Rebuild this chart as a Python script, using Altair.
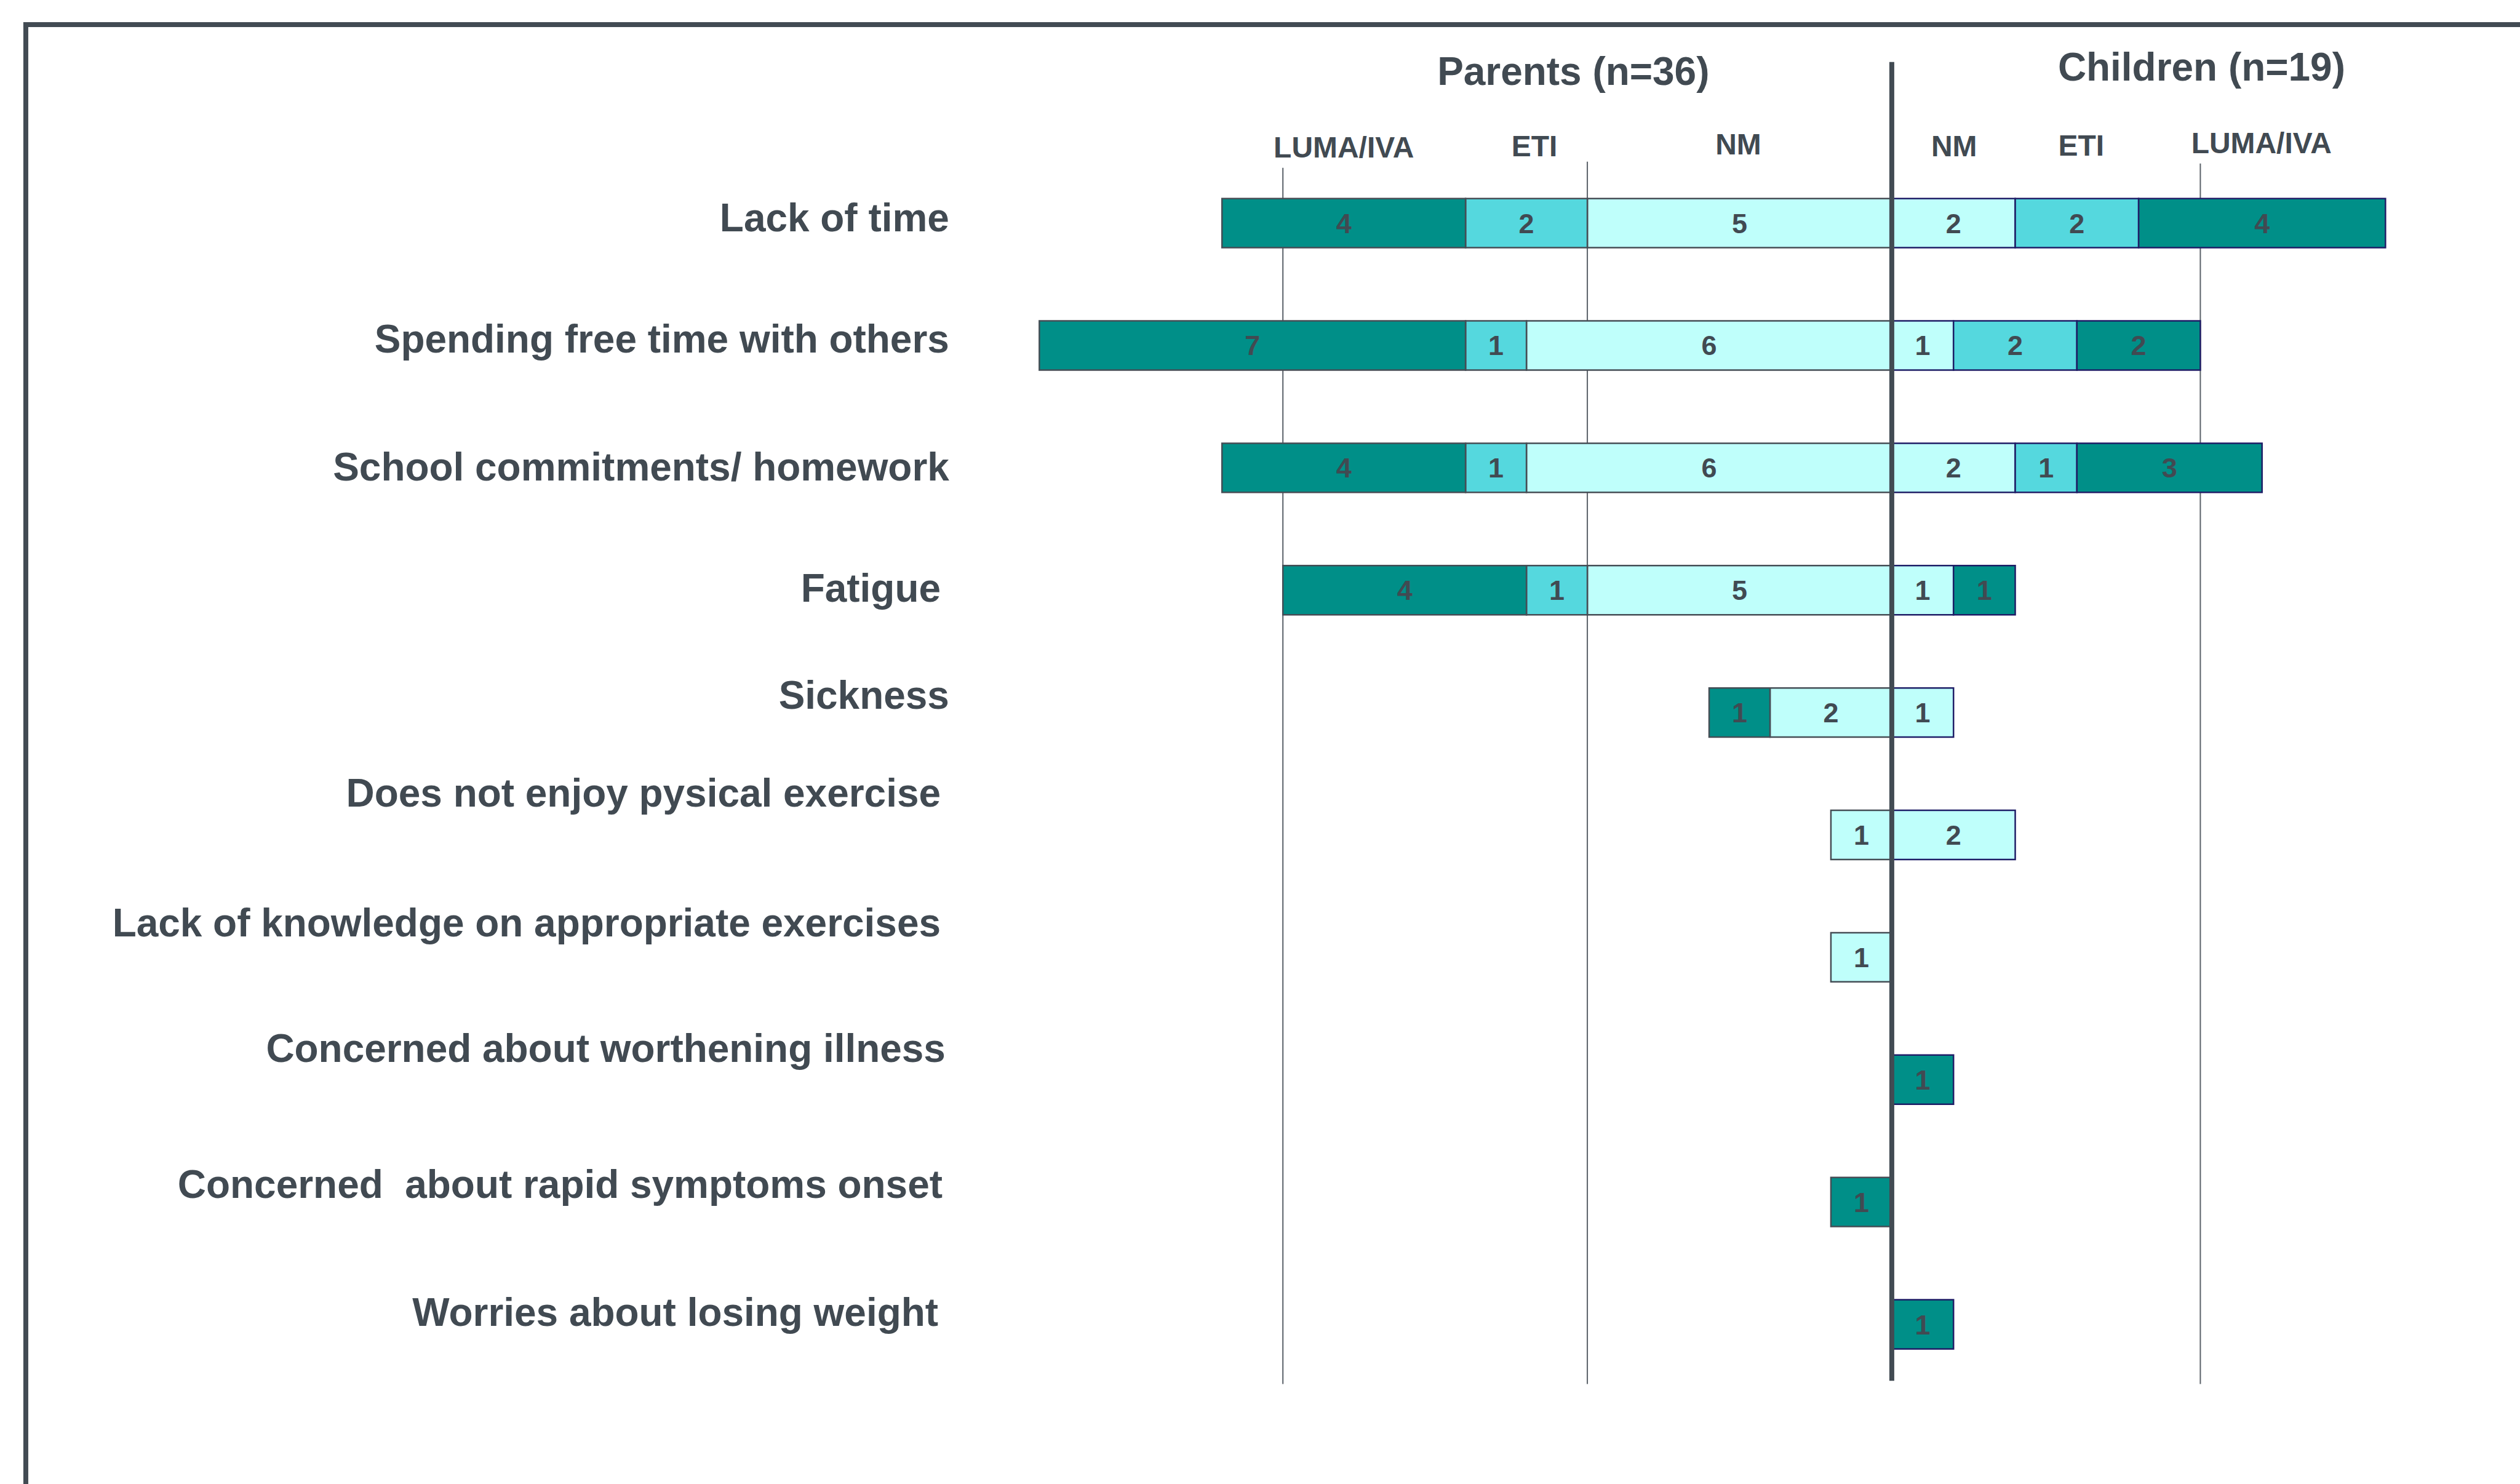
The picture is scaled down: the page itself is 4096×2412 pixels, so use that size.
import altair as alt
import pandas as pd

S = 0.999  # drawing scale relative to reference

# ---------------- data ----------------
categories = [
    "Lack of time",
    "Spending free time with others",
    "School commitments/ homework",
    "Fatigue",
    "Sickness",
    "Does not enjoy pysical exercise",
    "Lack of knowledge on appropriate exercises",
    "Concerned about worthening illness",
    "Concerned\u00a0 about rapid symptoms onset",
    "Worries about losing weight",
]
groups = ["NM", "ETI", "LUMA/IVA"]  # from the centre outwards

parents_nm = [5, 6, 6, 5, 2, 1, 1, 0, 0, 0]
parents_eti = [2, 1, 1, 1, 0, 0, 0, 0, 0, 0]
parents_luma = [4, 7, 4, 4, 1, 0, 0, 0, 1, 0]

children_nm = [2, 1, 2, 1, 1, 2, 0, 0, 0, 0]
children_eti = [2, 2, 1, 0, 0, 0, 0, 0, 0, 0]
children_luma = [4, 2, 3, 1, 0, 0, 0, 1, 0, 1]

side_titles = ["Parents (n=36)", "Children (n=19)"]
sub_titles = ["LUMA/IVA", "ETI", "NM", "NM", "ETI", "LUMA/IVA"]

# positions of texts (x in bar units, y in row units)
label_x = [-15.48, -15.48, -15.48, -15.62, -15.48, -15.62, -15.62, -15.54, -15.59, -15.66]
label_y = [0.067, 1.059, 2.106, 3.095, 3.971, 4.767, 5.828, 6.854, 7.965, 9.014]
side_x = [-5.23, 5.02]
side_y = [-1.130, -1.165]
sub_x = [-9.0, -5.87, -2.52, 1.01, 3.07, 5.99]
sub_y = [-0.534, -0.546, -0.559, -0.546, -0.551, -0.570]
grid_x = [-10, -5, 5]
grid_top = [-0.452, -0.502, -0.487]
grid_bottom = [9.488, 9.488, 9.488]

# ---------------- tables ----------------
series = {
    "Parents": (-1, {"NM": parents_nm, "ETI": parents_eti, "LUMA/IVA": parents_luma}),
    "Children": (1, {"NM": children_nm, "ETI": children_eti, "LUMA/IVA": children_luma}),
}
rows = []
for i, cat in enumerate(categories):
    for side, (sign, ser) in series.items():
        start = 0
        for g in groups:
            v = ser[g][i]
            if v > 0:
                rows.append(dict(row=i, category=cat, side=side, group=g, value=v,
                                 x=sign * start, x2=sign * (start + v),
                                 mid=sign * (start + v / 2)))
            start += v
bars_df = pd.DataFrame(rows)

labels_df = pd.DataFrame({"label": categories, "lx": label_x, "ly": label_y})
side_df = pd.DataFrame({"t": side_titles, "tx": side_x, "ty": side_y})
sub_df = pd.DataFrame({"t": sub_titles, "tx": sub_x, "ty": sub_y})
grid_df = pd.DataFrame({"gx": grid_x, "gy": grid_top, "gy2": grid_bottom})
center_df = pd.DataFrame({"gx": [0], "gy": [-1.317], "gy2": [9.461]})

# ---------------- scales ----------------
cx = 3078 * S
left_unit = 99.07 * S
right_unit = 100.4 * S
xscale = alt.Scale(domain=[-30, 0, 10],
                   range=[cx - 30 * left_unit, cx, cx + 10 * right_unit],
                   nice=False, zero=False)
yscale = alt.Scale(domain=[0, 9], range=[363 * S, 2154.7 * S], nice=False, zero=False)

TXT = "#414a52"
FONT = "Liberation Sans"
half_bar = 40 / 199.1

grid = alt.Chart(grid_df).mark_rule(color="#5a6168", strokeWidth=2 * S).encode(
    x=alt.X("gx:Q", scale=xscale, axis=None),
    y=alt.Y("gy:Q", scale=yscale, axis=None),
    y2="gy2:Q",
)

bars = alt.Chart(bars_df).transform_calculate(
    yt=f"datum.row - {half_bar}", yb=f"datum.row + {half_bar}"
).mark_rect(strokeWidth=2.5 * S).encode(
    x=alt.X("x:Q", scale=xscale, axis=None),
    x2="x2:Q",
    y=alt.Y("yt:Q", scale=yscale, axis=None),
    y2="yb:Q",
    fill=alt.Fill("group:N", scale=alt.Scale(domain=["NM", "ETI", "LUMA/IVA"],
                                             range=["#bffffb", "#55d8de", "#008f88"]), legend=None),
    stroke=alt.Stroke("side:N", scale=alt.Scale(domain=["Parents", "Children"],
                                                range=["#454d55", "#1e1d66"]), legend=None),
)

values = alt.Chart(bars_df).mark_text(
    font=FONT, fontWeight="bold", fontSize=45 * S, color=TXT,
    align="center", baseline="alphabetic", dy=16 * S,
).encode(
    x=alt.X("mid:Q", scale=xscale, axis=None),
    y=alt.Y("row:Q", scale=yscale, axis=None),
    text="value:Q",
)

center = alt.Chart(center_df).mark_rule(color="#424b53", strokeWidth=8 * S).encode(
    x=alt.X("gx:Q", scale=xscale, axis=None),
    y=alt.Y("gy:Q", scale=yscale, axis=None),
    y2="gy2:Q",
)

cat_labels = alt.Chart(labels_df).mark_text(
    font=FONT, fontWeight="bold", fontSize=64 * S, color=TXT,
    align="right", baseline="alphabetic",
).encode(
    x=alt.X("lx:Q", scale=xscale, axis=None),
    y=alt.Y("ly:Q", scale=yscale, axis=None),
    text="label:N",
)

side_text = alt.Chart(side_df).mark_text(
    font=FONT, fontWeight="bold", fontSize=64 * S, color=TXT,
    align="center", baseline="alphabetic",
).encode(
    x=alt.X("tx:Q", scale=xscale, axis=None),
    y=alt.Y("ty:Q", scale=yscale, axis=None),
    text="t:N",
)

sub_text = alt.Chart(sub_df).mark_text(
    font=FONT, fontWeight="bold", fontSize=48 * S, color=TXT,
    align="center", baseline="alphabetic",
).encode(
    x=alt.X("tx:Q", scale=xscale, axis=None),
    y=alt.Y("ty:Q", scale=yscale, axis=None),
    text="t:N",
)

# outer frame (decoration): left and top edges
frame_left = alt.Chart(center_df).mark_rule(color="#424b53", strokeWidth=8 * S).encode(
    x=alt.value(42 * S), y=alt.value(36 * S), y2=alt.value(2412)
)
frame_top = alt.Chart(center_df).mark_rule(color="#424b53", strokeWidth=8 * S).encode(
    x=alt.value(38 * S), x2=alt.value(4096), y=alt.value(40 * S)
)

chart = alt.layer(
    grid, bars, values, center, cat_labels, side_text, sub_text, frame_left, frame_top
).properties(
    width=4096, height=2412, padding=0, autosize="none", background="white"
).configure_view(stroke=None)

chart.save("out.html", embed_options={"renderer": "svg", "actions": False})
